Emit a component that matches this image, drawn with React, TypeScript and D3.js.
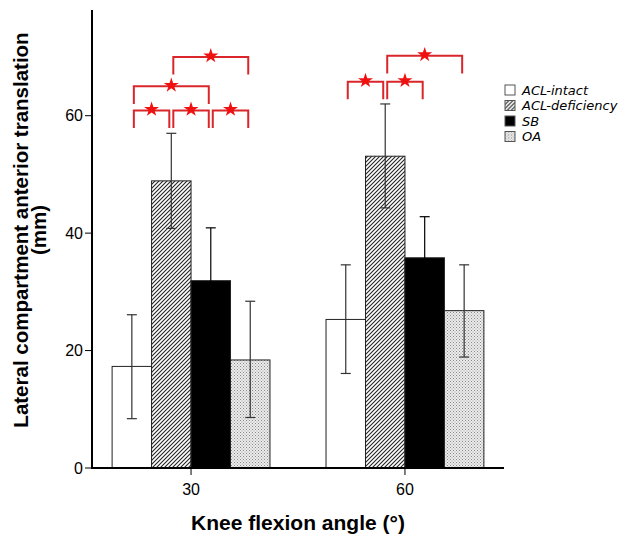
import React from 'react';
import * as d3 from 'd3';

const angles = ['30', '60'];
const groups = ['ACL-intact', 'ACL-deficiency', 'SB', 'OA'];
// mean values per group, in order of angles
const means: Record<string, number[]> = {
  'ACL-intact': [17.3, 25.3],
  'ACL-deficiency': [48.9, 53.1],
  SB: [31.9, 35.8],
  OA: [18.4, 26.8],
};
const errLow: Record<string, number[]> = {
  'ACL-intact': [8.4, 16.1],
  'ACL-deficiency': [40.8, 44.3],
  SB: [23.0, 28.9],
  OA: [8.6, 18.9],
};
const errHigh: Record<string, number[]> = {
  'ACL-intact': [26.1, 34.6],
  'ACL-deficiency': [57.0, 62.0],
  SB: [40.9, 42.8],
  OA: [28.4, 34.6],
};
const yTicks = [0, 20, 40, 60];
// significance brackets: angle, from group, to group, level (value units)
const brackets = [
  { angle: '30', a: 0, b: 1, level: 60.9 },
  { angle: '30', a: 1, b: 2, level: 60.9 },
  { angle: '30', a: 2, b: 3, level: 60.9 },
  { angle: '30', a: 0, b: 2, level: 65.0 },
  { angle: '30', a: 1, b: 3, level: 70.0 },
  { angle: '60', a: 0, b: 1, level: 65.8 },
  { angle: '60', a: 1, b: 2, level: 65.8 },
  { angle: '60', a: 1, b: 3, level: 70.2 },
];

const fills: Record<string, string> = {
  'ACL-intact': '#ffffff',
  'ACL-deficiency': 'url(#hatch)',
  SB: '#000000',
  OA: 'url(#dots)',
};

const App = () => {
  const W = 622;
  const H = 536;
  const left = 92;
  const right = 504;
  const bottom = 468;

  const x0 = d3.scaleBand().domain(angles).range([left, right]).paddingInner(0.262).paddingOuter(0.094);
  const x1 = d3.scaleBand().domain(groups).range([0, x0.bandwidth()]).padding(0);
  const y = d3.scaleLinear().domain([0, 78]).range([bottom, 10]);

  const red = '#d9262b';
  const star = d3.symbol().type(d3.symbolStar).size(70)();
  const cx = (angle: string, i: number) => (x0(angle) as number) + (x1(groups[i]) as number) + x1.bandwidth() / 2;

  return (
    <svg width={W} height={H} style={{ position: 'absolute', left: 0, top: 0, background: '#fff' }}>
      <defs>
        <pattern id="hatch" width="4" height="4" patternUnits="userSpaceOnUse">
          <rect width="4" height="4" fill="#fff" />
          <path d="M-1,1 l2,-2 M0,4 l4,-4 M3,5 l2,-2" stroke="#222" strokeWidth="1.1" />
        </pattern>
        <pattern id="dots" width="3" height="3" patternUnits="userSpaceOnUse">
          <rect width="3" height="3" fill="#ececec" />
          <rect x="0" y="0" width="1" height="1" fill="#888" />
          <rect x="1.5" y="1.5" width="1" height="1" fill="#999" />
        </pattern>
      </defs>

      {/* bars */}
      {angles.map((a, ai) =>
        groups.map((g) => (
          <rect
            key={a + g}
            x={(x0(a) as number) + (x1(g) as number)}
            y={y(means[g][ai])}
            width={x1.bandwidth()}
            height={bottom - y(means[g][ai])}
            fill={fills[g]}
            stroke="#222"
            strokeWidth={1}
          />
        ))
      )}

      {/* error bars */}
      {angles.map((a, ai) =>
        groups.map((g, gi) => {
          const c = cx(a, gi);
          const col = g === 'SB' ? '#000' : '#333';
          return (
            <g key={'e' + a + g} stroke={col} strokeWidth={1.2}>
              <line x1={c} x2={c} y1={y(errLow[g][ai])} y2={y(errHigh[g][ai])} />
              <line x1={c - 5} x2={c + 5} y1={y(errLow[g][ai])} y2={y(errLow[g][ai])} />
              <line x1={c - 5} x2={c + 5} y1={y(errHigh[g][ai])} y2={y(errHigh[g][ai])} />
            </g>
          );
        })
      )}

      {/* axes */}
      <line x1={left} x2={left} y1={10} y2={bottom + 1} stroke="#000" strokeWidth={2} />
      <line x1={left - 1} x2={right} y1={bottom} y2={bottom} stroke="#000" strokeWidth={2} />
      {yTicks.map((t) => (
        <g key={'y' + t}>
          <line x1={left - 7} x2={left} y1={y(t)} y2={y(t)} stroke="#000" strokeWidth={1} />
          <text x={left - 9} y={y(t)} dy="0.35em" textAnchor="end" fontFamily="Liberation Sans, Arial" fontSize={16}>
            {t}
          </text>
        </g>
      ))}
      {angles.map((a) => {
        const c = (x0(a) as number) + x0.bandwidth() / 2;
        return (
          <g key={'x' + a}>
            <line x1={c} x2={c} y1={bottom} y2={bottom + 7} stroke="#000" strokeWidth={1} />
            <text x={c} y={bottom + 27} textAnchor="middle" fontFamily="Liberation Sans, Arial" fontSize={16}>
              {a}
            </text>
          </g>
        );
      })}

      <text
        transform={`translate(28,230) rotate(-90)`}
        textAnchor="middle"
        fontFamily="Liberation Sans, Arial"
        fontWeight="bold"
        fontSize={20.5}
      >
        Lateral compartment anterior translation
      </text>
      <text
        transform={`translate(46,230) rotate(-90)`}
        textAnchor="middle"
        fontFamily="Liberation Sans, Arial"
        fontWeight="bold"
        fontSize={20.5}
      >
        (mm)
      </text>
      <text x={298} y={530} textAnchor="middle" fontFamily="Liberation Sans, Arial" fontWeight="bold" fontSize={21}>
        Knee flexion angle (°)
      </text>

      {/* significance brackets */}
      {brackets.map((b, i) => {
        const xa = cx(b.angle, b.b > b.a ? b.a : b.b) + 2;
        const xb = cx(b.angle, b.b) - 2;
        const yl = y(b.level);
        const ys = y(b.level - 3);
        return (
          <g key={'b' + i}>
            <path d={`M${xa},${ys} V${yl} H${xb} V${ys}`} fill="none" stroke={red} strokeWidth={2} />
            <path d={star} transform={`translate(${(xa + xb) / 2},${yl - 1})`} fill="#f01010" />
          </g>
        );
      })}

      {/* legend */}
      {groups.map((g, i) => (
        <g key={'l' + g} transform={`translate(505,${85 + i * 15.5})`}>
          <rect width={10} height={10} fill={fills[g]} stroke="#555" strokeWidth={1} />
          <text x={17} y={5} dy="0.35em" fontFamily="DejaVu Sans" fontStyle="italic" fontSize={13}>
            {g}
          </text>
        </g>
      ))}
    </svg>
  );
};

export default App;
